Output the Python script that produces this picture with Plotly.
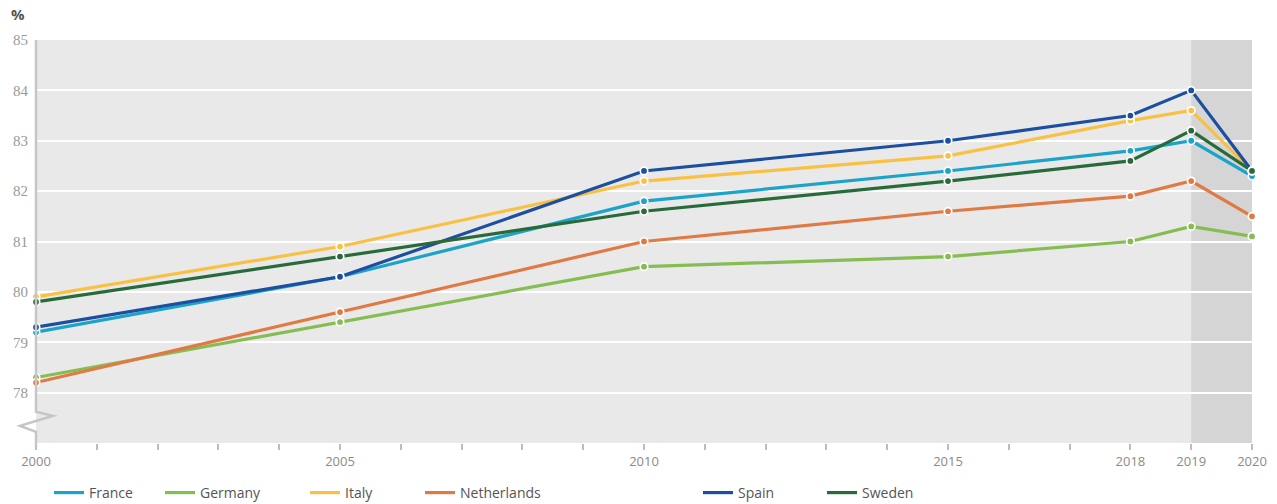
import plotly.graph_objects as go

years = [2000, 2005, 2010, 2015, 2018, 2019, 2020]
france = [79.2, 80.3, 81.8, 82.4, 82.8, 83.0, 82.3]
germany = [78.3, 79.4, 80.5, 80.7, 81.0, 81.3, 81.1]
italy = [79.9, 80.9, 82.2, 82.7, 83.4, 83.6, 82.4]
netherlands = [78.2, 79.6, 81.0, 81.6, 81.9, 82.2, 81.5]
spain = [79.3, 80.3, 82.4, 83.0, 83.5, 84.0, 82.4]
sweden = [79.8, 80.7, 81.6, 82.2, 82.6, 83.2, 82.4]

series_names = ["France", "Germany", "Italy", "Netherlands", "Spain", "Sweden"]
series_values = [france, germany, italy, netherlands, spain, sweden]
colors = ["#1ba3c9", "#86bd52", "#f9c143", "#e07a45", "#1c4f9f", "#286b3a"]

x_tick_vals = list(range(2000, 2021))
x_labeled = [2000, 2005, 2010, 2015, 2018, 2019, 2020]
x_tick_text = [str(v) if v in x_labeled else "" for v in x_tick_vals]
y_tick_vals = [78, 79, 80, 81, 82, 83, 84, 85]

W, H = 1277, 504
legend_text_x = [89, 200, 345, 460, 738, 862]

fig = go.Figure()
for i, (name, vals, c) in enumerate(zip(series_names, series_values, colors)):
    leg = "legend" if i == 0 else f"legend{i+1}"
    fig.add_trace(go.Scatter(
        x=years, y=vals, name=name, mode="lines",
        line=dict(color=c, width=3.2), cliponaxis=False, legend=leg,
    ))
for name, vals, c in zip(series_names, series_values, colors):
    fig.add_trace(go.Scatter(
        x=years, y=vals, name=name, mode="markers", showlegend=False,
        marker=dict(size=7.5, color=c, line=dict(color="white", width=1.7)),
        cliponaxis=False,
    ))

# shaded 2019-2020 region
fig.add_vrect(x0=2019, x1=2020, fillcolor="#d5d5d5", line_width=0, layer="below")

# left axis line with break (paper coordinates, pixel x offsets)
def yp(v):
    return (v - 77) / 8

fig.add_shape(type="path", xref="paper", yref="paper", xsizemode="pixel", xanchor=0,
              path=(f"M 0,1 L 0,{yp(77.62):.4f} L 17,{yp(77.54):.4f} "
                    f"L -16,{yp(77.34):.4f} L 0,{yp(77.22):.4f} L 0,-0.01"),
              line=dict(color="#c6c6c6", width=2.5), layer="above")

legends = {}
for i, tx in enumerate(legend_text_x):
    key = "legend" if i == 0 else f"legend{i+1}"
    legends[key] = dict(
        orientation="h", xref="container", yref="container",
        x=(tx - 40) / W, y=1 - 493 / H, xanchor="left", yanchor="middle",
        bgcolor="rgba(0,0,0,0)", borderwidth=0,
        font=dict(family="Open Sans", size=14, color="#555555"),
        itemwidth=30,
    )

fig.update_layout(
    width=W, height=H,
    margin=dict(l=36, r=25, t=40, b=61, autoexpand=False),
    paper_bgcolor="white", plot_bgcolor="#e9e9e9",
    showlegend=True,
    **legends,
    xaxis=dict(range=[2000, 2020], tickvals=x_tick_vals, ticktext=x_tick_text,
               showgrid=False, zeroline=False, ticks="outside", ticklen=6,
               tickcolor="#bdbdbd", tickwidth=1.5,
               tickfont=dict(family="Open Sans", size=13, color="#8a8a8a"),
               showline=False),
    yaxis=dict(range=[77, 85], tickvals=y_tick_vals, showgrid=True,
               gridcolor="white", gridwidth=2, zeroline=False, ticks="",
               tickfont=dict(family="Liberation Serif", size=15, color="#9a9a9a"),
               ticklabelstandoff=7, showline=False),
    annotations=[dict(text="<b>%</b>", xref="paper", yref="paper", x=0, y=1,
                      xshift=-27, yshift=26, xanchor="left", yanchor="middle",
                      showarrow=False, font=dict(family="Open Sans", size=15, color="#555555"))],
)

fig.write_html("out.html", config={"displayModeBar": False},
               post_script="document.body.style.margin='0';document.body.style.overflow='hidden';")
